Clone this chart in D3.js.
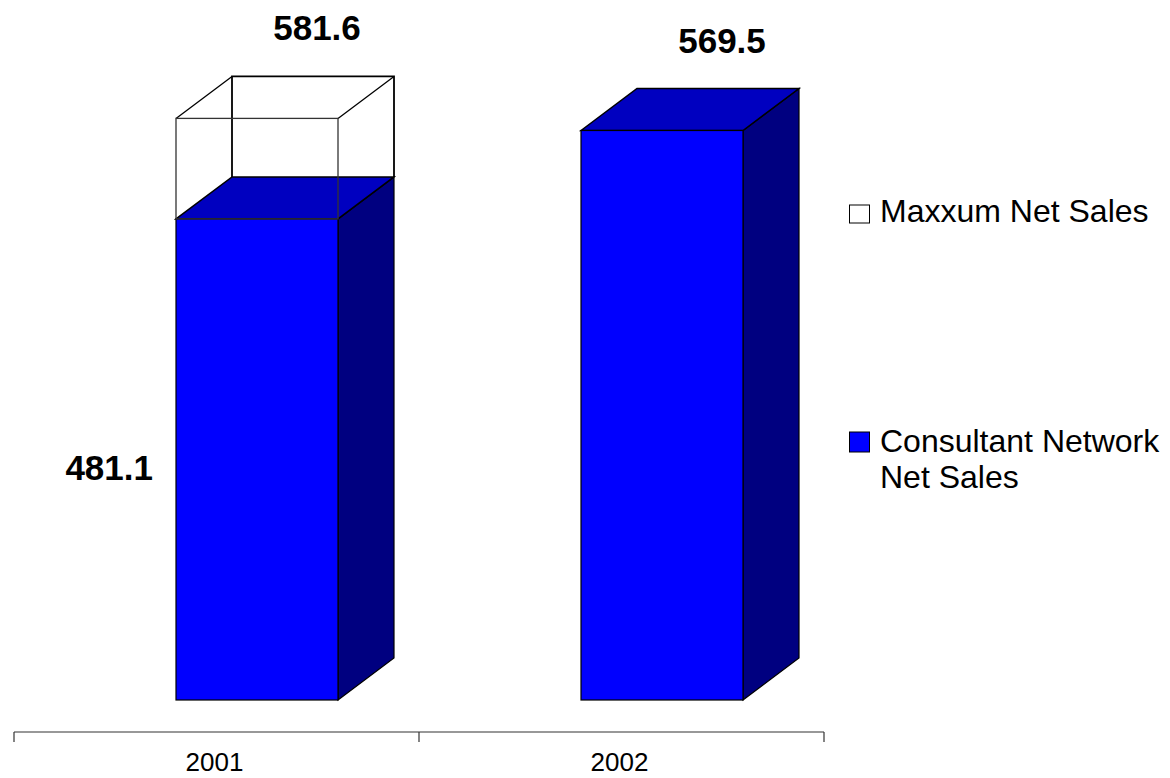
<!DOCTYPE html>
<html><head><meta charset="utf-8">
<script src="https://cdn.jsdelivr.net/npm/d3@7"></script>
<style>body{margin:0;background:#fff}svg{display:block}text{font-family:"Liberation Sans",Arial,sans-serif}</style>
</head><body><svg id="c" width="1170" height="778"></svg>
<script>
const years = ["2001", "2002"];
const consultant = [481.1, 569.5];
const maxxum = [100.5, 0];
const totals = [581.6, 569.5];
const seriesNames = ["Maxxum Net Sales", "Consultant Network Net Sales"];

const svg = d3.select("#c");
const x = d3.scaleBand().domain(years).range([14, 824]);
const y = d3.scaleLinear().domain([0, 700]).range([700, 0]);
const dx = 56, dy = 42;
const bw = x.bandwidth();

years.forEach((yr, i) => {
  const x0 = x(yr) + bw * 0.4, x1 = x0 + bw * 0.4;
  const yb = y(0), yc = y(consultant[i]);
  const g = svg.append("g");
  g.append("path").attr("d", `M${x1},${yb}L${x1+dx},${yb-dy}L${x1+dx},${yc-dy}L${x1},${yc}Z`)
    .attr("fill", "#000080").attr("stroke", "#000").attr("stroke-width", 1.2);
  g.append("path").attr("d", `M${x0},${yc}L${x0+dx},${yc-dy}L${x1+dx},${yc-dy}L${x1},${yc}Z`)
    .attr("fill", "#0000C0").attr("stroke", "#000").attr("stroke-width", 1.5);
  g.append("rect").attr("x", x0).attr("y", yc).attr("width", x1 - x0).attr("height", yb - yc)
    .attr("fill", "#0000FF").attr("stroke", "#000").attr("stroke-width", 1.2);
  if (maxxum[i] > 0) {
    const yt = y(consultant[i] + maxxum[i]);
    const w = g.append("g").attr("fill", "none").attr("stroke", "#000").attr("stroke-width", 1.3);
    w.append("path").attr("d", `M${x0+dx},${yc-dy}L${x0+dx},${yt-dy}L${x1+dx},${yt-dy}L${x1+dx},${yc-dy}`).attr("stroke-width", 1.8);
    w.append("path").attr("d", `M${x0},${yt}L${x0+dx},${yt-dy}M${x1},${yt}L${x1+dx},${yt-dy}`);
    w.append("rect").attr("x", x0).attr("y", yt).attr("width", x1 - x0).attr("height", yc - yt).attr("stroke", "#333");
  }
  svg.append("text").attr("x", (x0 + x1) / 2 + dx + 4).attr("y", y(totals[i]) - 78)
    .attr("text-anchor", "middle").attr("font-size", 35).attr("font-weight", "bold").text(totals[i].toFixed(1));
});

svg.append("text").attr("x", x(years[0]) + bw * 0.4 - 23).attr("y", (y(0) + y(consultant[0])) / 2 + 21)
  .attr("text-anchor", "end").attr("font-size", 35).attr("font-weight", "bold").text(consultant[0].toFixed(1));

const ax = svg.append("g").attr("stroke", "#333").attr("stroke-width", 1.2);
ax.append("line").attr("x1", 14).attr("x2", 824).attr("y1", 732).attr("y2", 732);
[14, ...years.map(d => x(d) + bw)].forEach(v => ax.append("line").attr("x1", v).attr("x2", v).attr("y1", 732).attr("y2", 742));
years.forEach(yr => svg.append("text").attr("x", x(yr) + bw / 2 - 2).attr("y", 771)
  .attr("text-anchor", "middle").attr("font-size", 26).text(yr));

const leg = svg.append("g");
leg.append("rect").attr("x", 849.5).attr("y", 205).attr("width", 20).attr("height", 18).attr("fill", "#fff").attr("stroke", "#000").attr("stroke-width", 1);
leg.append("text").attr("x", 880).attr("y", 222).attr("font-size", 32).text(seriesNames[0]);
leg.append("rect").attr("x", 849.5).attr("y", 432).attr("width", 20).attr("height", 20).attr("fill", "#0000FF").attr("stroke", "#000").attr("stroke-width", 1);
leg.append("text").attr("x", 880).attr("y", 452).attr("font-size", 32).text("Consultant Network");
leg.append("text").attr("x", 880).attr("y", 488).attr("font-size", 32).text("Net Sales");
</script></body></html>
